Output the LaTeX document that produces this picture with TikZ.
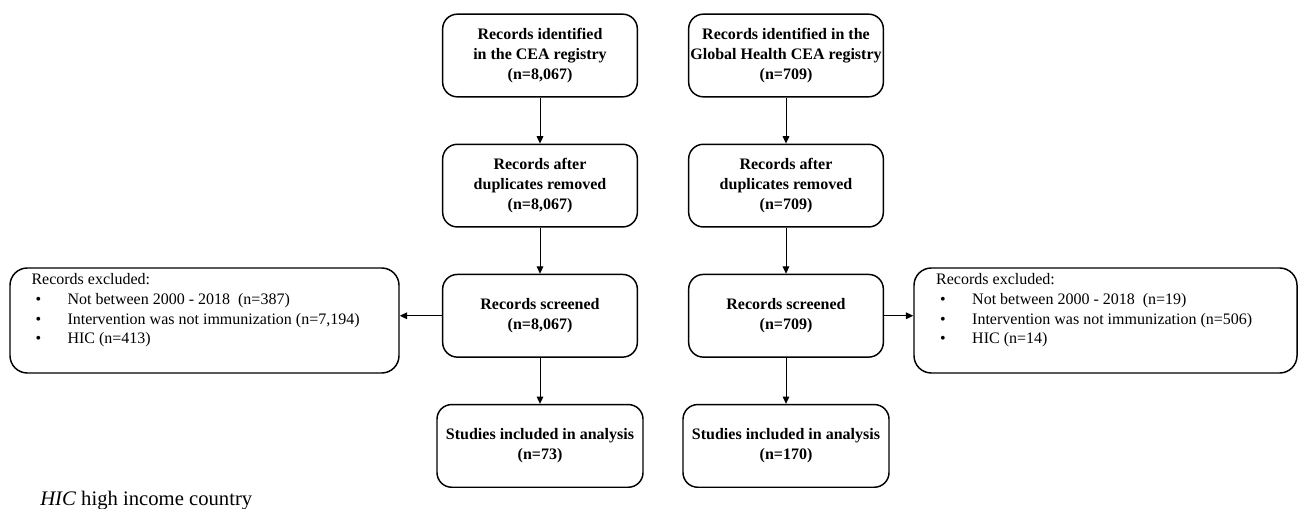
\documentclass[tikz,border=0pt]{standalone}
\usepackage{fontspec}
\setmainfont{Liberation Serif}
\usetikzlibrary{arrows.meta,positioning}

\newcommand{\exclitem}[1]{\hspace*{3pt}\makebox[24pt][l]{\textbullet}#1}

\begin{document}
\begin{tikzpicture}[
  x=0.75pt, y=-0.75pt,
  font=\fontsize{12}{15.2}\selectfont,
  node distance=34.5pt,
  box/.style={
    draw=black,
    rounded corners=11pt,
    line width=1.1pt,
    align=center,
    minimum width=146pt,
    inner xsep=4pt,
    inner ysep=4pt,
    minimum height=62pt,
    font=\fontsize{12}{15.2}\selectfont\bfseries
  },
  result/.style={
    box,
    minimum width=154.5pt
  },
  excl/.style={
    draw=black,
    rounded corners=13pt,
    line width=1.1pt,
    minimum height=78.75pt,
    inner sep=0pt
  },
  list/.style={
    align=left,
    inner sep=0pt,
    anchor=north west,
    font=\fontsize{12}{14.8}\selectfont
  },
  arrow/.style={-{Triangle[length=5.5pt,width=5pt]}, line width=0.75pt}
]

\useasboundingbox (0,0) rectangle (1301,509);

% left column: CEA registry
\node[box] (idL) at (540,55.5) {Records identified\\in the CEA registry\\(n=8,067)};
\node[box, below=of idL] (dupL) {Records after\\duplicates removed\\(n=8,067)};
\node[box, below=of dupL] (scrL) {Records screened\\(n=8,067)};
\node[result, below=of scrL] (incL) {Studies included in analysis\\(n=73)};

% right column: Global Health CEA registry
\node[box, inner xsep=-3pt] (idR) at (786,55.5) {Records identified in the\\Global Health CEA registry\\(n=709)};
\node[box, below=of idR] (dupR) {Records after\\duplicates removed\\(n=709)};
\node[box, below=of dupR] (scrR) {Records screened\\(n=709)};
\node[result, below=of scrR] (incR) {Studies included in analysis\\(n=170)};

% exclusions
\node[excl, minimum width=291.75pt] (exL) at (204.5,320.5) {};
\node[list] (exLtxt) at ([xshift=16.5pt, yshift=-4.5pt]exL.north west)
  {Records excluded:\\
   \exclitem{Not between 2000 - 2018\ \ (n=387)}\\
   \exclitem{Intervention was not immunization (n=7,194)}\\
   \exclitem{HIC (n=413)}};

\node[excl, minimum width=287.25pt] (exR) at (1105.5,320.5) {};
\node[list] (exRtxt) at ([xshift=17pt, yshift=-4.5pt]exR.north west)
  {Records excluded:\\
   \exclitem{Not between 2000 - 2018\ \ (n=19)}\\
   \exclitem{Intervention was not immunization (n=506)}\\
   \exclitem{HIC (n=14)}};

\draw[arrow] (idL) -- (dupL);
\draw[arrow] (dupL) -- (scrL);
\draw[arrow] (scrL) -- (incL);
\draw[arrow] (scrL.west) -- (scrL.west -| exL.east);

\draw[arrow] (idR) -- (dupR);
\draw[arrow] (dupR) -- (scrR);
\draw[arrow] (scrR) -- (incR);
\draw[arrow] (scrR.east) -- (scrR.east -| exR.west);

\node[anchor=base west, inner sep=0pt, font=\fontsize{15.5}{18}\selectfont] (note) at (40,505)
  {\textit{HIC} high income country};

\end{tikzpicture}
\end{document}
